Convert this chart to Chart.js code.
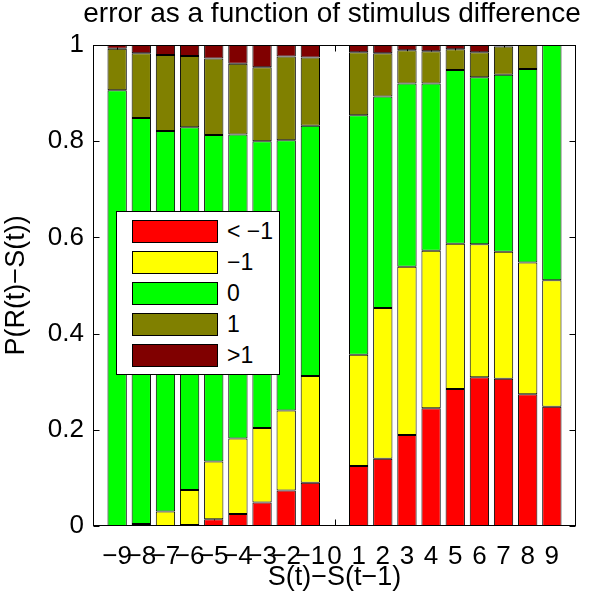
<!DOCTYPE html>
<html><head><meta charset="utf-8">
<script src="https://cdn.jsdelivr.net/npm/chart.js@4"></script>
<style>
html,body{margin:0;padding:0;background:#fff;}
#wrap{position:relative;width:592px;height:607px;overflow:hidden;}
#legend{position:absolute;left:116px;top:211px;width:164px;height:164px;box-sizing:border-box;border:1px solid #000;background:#fff;font-family:'Liberation Sans',Arial,sans-serif;}
.row{position:absolute;left:15px;height:23px;width:140px;}
.sw{position:absolute;left:0;top:0;width:86px;height:23px;box-sizing:border-box;border:1px solid #000;}
.lb{position:absolute;left:95px;top:0;line-height:23px;font-size:23px;color:#000;white-space:nowrap;}
</style></head>
<body><div id="wrap"><canvas id="c" width="592" height="607"></canvas><div id="legend"></div></div>
<script>
const titleText = 'error as a function of stimulus difference';
const xTitle = 'S(t)−S(t−1)';
const yTitle = 'P(R(t)−S(t))';
const categories = ['−10','−9','−8','−7','−6','−5','−4','−3','−2','−1','0','1','2','3','4','5','6','7','8','9','10'];
const hiddenLabels = ['−10','10'];
const seriesNames = ['< −1','−1','0','1','>1'];
const seriesColors = ['#FF0000','#FFFF00','#00FF00','#808000','#800000'];
const errLessMinus1 = [null,0,0,0,0.002,0.014,0.025,0.049,0.074,0.090,null,0.125,0.140,0.189,0.245,0.285,0.309,0.306,0.274,0.248,null];
const errMinus1     = [null,0,0.004,0.030,0.073,0.120,0.157,0.155,0.166,0.222,null,0.231,0.313,0.350,0.327,0.302,0.277,0.264,0.274,0.263,null];
const errZero       = [null,0.906,0.844,0.791,0.754,0.679,0.632,0.596,0.562,0.520,null,0.498,0.440,0.381,0.348,0.361,0.347,0.368,0.402,0.489,null];
const errPlus1      = [null,0.086,0.135,0.158,0.148,0.159,0.147,0.154,0.174,0.142,null,0.131,0.090,0.069,0.067,0.043,0.052,0.059,0.050,0,null];
const errMorePlus1  = [null,0.008,0.017,0.021,0.023,0.028,0.039,0.046,0.024,0.026,null,0.015,0.017,0.011,0.013,0.009,0.015,0.003,0,0,null];
const yTickValues = [0,0.2,0.4,0.6,0.8,1];
const yTickLabels = ['0','0.2','0.4','0.6','0.8','1'];

const seriesData = [errLessMinus1, errMinus1, errZero, errPlus1, errMorePlus1];

Chart.defaults.font.family = "'Liberation Sans', Arial, sans-serif";
Chart.defaults.color = '#000';

const frame = {
  id: 'frame',
  beforeDatasetsDraw(chart) {
    const {ctx, chartArea: a, scales: {x, y}} = chart;
    ctx.save();
    ctx.strokeStyle = '#000';
    ctx.lineWidth = 1;
    ctx.beginPath();
    const L = Math.round(a.left) + 0.5, R = Math.round(a.right) - 0.5;
    const T = Math.round(a.top) + 0.5, B = Math.round(a.bottom) - 0.5;
    yTickValues.forEach(v => {
      const py = Math.round(y.getPixelForValue(v)) + 0.5;
      ctx.moveTo(L, py); ctx.lineTo(L + 6, py);
      ctx.moveTo(R, py); ctx.lineTo(R - 6, py);
    });
    categories.forEach((c, i) => {
      if (hiddenLabels.includes(c)) return;
      const px = Math.round(x.getPixelForValue(i)) + 0.5;
      ctx.moveTo(px, B); ctx.lineTo(px, B - 6);
      ctx.moveTo(px, T); ctx.lineTo(px, T + 6);
    });
    ctx.stroke();
    ctx.strokeRect(L, T, R - L, B - T);
    ctx.restore();
  }
};

new Chart(document.getElementById('c'), {
  type: 'bar',
  data: {
    labels: categories,
    datasets: seriesData.map((d, i) => ({
      label: seriesNames[i],
      data: d,
      backgroundColor: seriesColors[i],
      borderColor: '#000',
      borderWidth: 1,
      borderSkipped: false,
      barPercentage: 0.8,
      categoryPercentage: 1
    }))
  },
  options: {
    responsive: false,
    animation: false,
    devicePixelRatio: 1,
    layout: {padding: {left: 0, right: -72, top: 0, bottom: 0}},
    plugins: {
      legend: {display: false},
      tooltip: {enabled: false},
      title: {display: true, text: titleText, color: '#000',
        font: {size: 28, weight: 'normal', lineHeight: 1}, padding: {top: 0, bottom: 17}}
    },
    scales: {
      x: {
        stacked: true,
        offset: false,
        grid: {display: false, drawTicks: false},
        border: {display: false},
        ticks: {autoSkip: false, maxRotation: 0, minRotation: 0, padding: 15,
          font: {size: 26},
          callback: function(v, i) { const l = categories[i]; return hiddenLabels.includes(l) ? '' : l; }},
        title: {display: true, text: xTitle, font: {size: 27}, padding: {top: 0, bottom: 13}},
        afterFit(s) { s.height = 81; }
      },
      y: {
        stacked: true,
        min: 0, max: 1,
        grid: {display: false, drawTicks: false},
        border: {display: false},
        ticks: {stepSize: 0.2, padding: 9, font: {size: 26},
          callback: function(v) {
            const k = yTickValues.findIndex(t => Math.abs(t - v) < 1e-9);
            return k >= 0 ? yTickLabels[k] : '';
          }},
        title: {display: true, text: yTitle, font: {size: 27}, padding: {top: 0, bottom: 0}},
        afterFit(s) { s.width = 93; }
      },
      yRight: {
        position: 'right',
        min: 0, max: 1,
        grid: {display: false, drawTicks: false},
        border: {display: false},
        ticks: {display: false},
        afterFit(s) { s.width = 88; }
      }
    }
  },
  plugins: [frame]
});

const leg = document.getElementById('legend');
seriesNames.forEach((n, i) => {
  const row = document.createElement('div');
  row.className = 'row';
  row.style.top = (7.5 + i * 31) + 'px';
  const sw = document.createElement('div');
  sw.className = 'sw';
  sw.style.background = seriesColors[i];
  const lb = document.createElement('div');
  lb.className = 'lb';
  lb.textContent = n;
  row.appendChild(sw); row.appendChild(lb);
  leg.appendChild(row);
});
</script>
</body></html>
